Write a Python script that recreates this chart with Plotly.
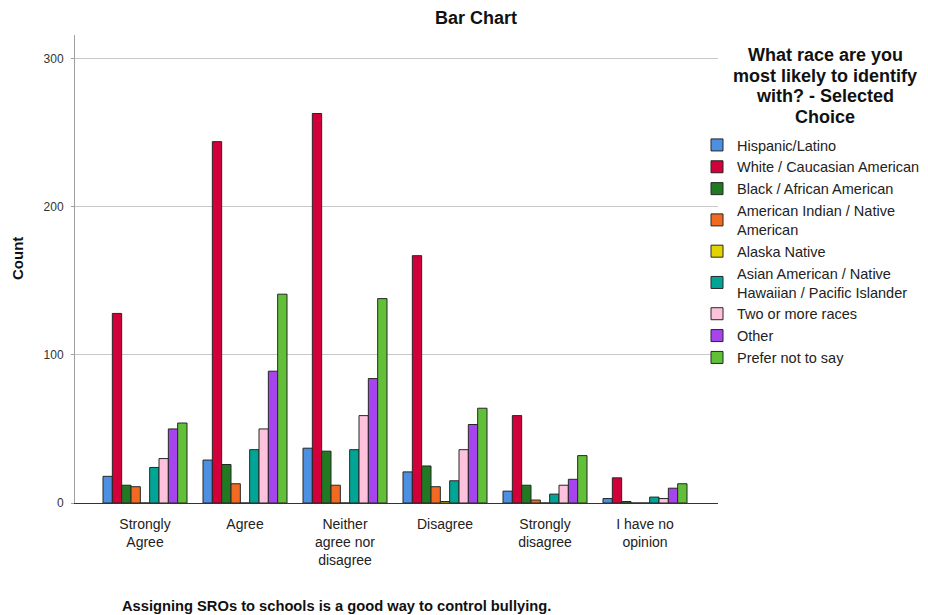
import plotly.graph_objects as go

categories = ["Strongly<br>Agree", "Agree", "Neither<br>agree nor<br>disagree",
              "Disagree", "Strongly<br>disagree", "I have no<br>opinion"]

series_names = ["Hispanic/Latino", "White / Caucasian American", "Black / African American",
                "American Indian / Native<br>American", "Alaska Native",
                "Asian American / Native<br>Hawaiian / Pacific Islander",
                "Two or more races", "Other", "Prefer not to say"]

hispanic = [18, 29, 37, 21, 8, 3]
white = [128, 244, 263, 167, 59, 17]
black = [12, 26, 35, 25, 12, 1]
american_indian = [11, 13, 12, 11, 2, 0]
alaska_native = [0, 0, 0, 1, 0, 0]
asian = [24, 36, 36, 15, 6, 4]
two_or_more = [30, 50, 59, 36, 12, 3]
other = [50, 89, 84, 53, 16, 10]
prefer_not = [54, 141, 138, 64, 32, 13]

series_values = [hispanic, white, black, american_indian, alaska_native,
                 asian, two_or_more, other, prefer_not]

colors = ["#4D8FE0", "#D2003A", "#217A22", "#F26A22", "#E3D400",
          "#00A596", "#FFC2DC", "#A645EE", "#62C038"]

legend_title_lines = ["What race are you", "most likely to identify",
                      "with? - Selected", "Choice"]

FONT = "Liberation Sans, Arial, sans-serif"

# page body has an 8px margin; figure coordinates = page coordinates - 8
OFF = 8
W, H = 928 - OFF, 615 - OFF
L, R, T, B = 75 - OFF, W - (718 - OFF), 35 - OFF, H - (503 - OFF)

fig = go.Figure()
for name, vals, col in zip(series_names, series_values, colors):
    fig.add_trace(go.Bar(
        x=list(range(len(categories))), y=vals, name=name,
        marker=dict(color=col, line=dict(color="#262626", width=1)),
    ))

annotations = []
for i, line in enumerate(legend_title_lines):
    ypix = 55 + i * 20.7
    annotations.append(dict(
        text=f"<b>{line}</b>", x=(825-75)/643, y=(503-ypix)/468,
        xref="paper", yref="paper", xanchor="center", yanchor="middle",
        showarrow=False, font=dict(size=18, color="#111", family=FONT)))
annotations += [
    dict(text="<b>Assigning SROs to schools is a good way to control bullying.</b>",
         x=(336-75)/643, y=-(606-503)/468, xref="paper", yref="paper",
         xanchor="center", yanchor="middle", showarrow=False,
         font=dict(size=14.7, color="#111", family=FONT)),
    dict(text="<b>Count</b>", textangle=-90,
         x=(18-75)/643, y=(503-259)/468, xref="paper", yref="paper",
         xanchor="center", yanchor="middle", showarrow=False,
         font=dict(size=15, color="#111", family=FONT)),
]

fig.update_layout(
    width=W, height=H,
    margin=dict(l=L, r=R, t=T, b=B, pad=0, autoexpand=False),
    paper_bgcolor="white", plot_bgcolor="white",
    barmode="group", bargap=0.16, bargroupgap=0,
    font=dict(family=FONT, color="#222"),
    title=dict(text="<b>Bar Chart</b>", x=(476-OFF)/W, xanchor="center",
               y=1-(18-OFF)/H, yanchor="middle", yref="container",
               font=dict(size=18, color="#111", family=FONT)),
    xaxis=dict(
        tickmode="array", tickvals=list(range(len(categories))), ticktext=categories,
        range=[-0.7, 5.73], showgrid=False, showline=True, linecolor="#333",
        linewidth=1, ticks="", tickfont=dict(size=14, color="#222"),
        ticklabelstandoff=8, zeroline=False,
    ),
    yaxis=dict(
        range=[0, 316], tickvals=[0, 100, 200, 300], showgrid=True,
        gridcolor="#c8c8c8", gridwidth=1, showline=True, linecolor="#a0a0a0",
        ticks="outside", ticklen=3, tickcolor="#a0a0a0", ticklabelstandoff=5,
        tickfont=dict(size=12, color="#333"), zeroline=False,
    ),
    legend=dict(
        x=(697-75)/643, xanchor="left", y=(503-129)/468, yanchor="top",
        font=dict(size=14.5, color="#222", family=FONT),
        bgcolor="rgba(0,0,0,0)", tracegroupgap=0, itemclick=False,
    ),
    showlegend=True,
    annotations=annotations,
)

fig.write_html("out.html")
